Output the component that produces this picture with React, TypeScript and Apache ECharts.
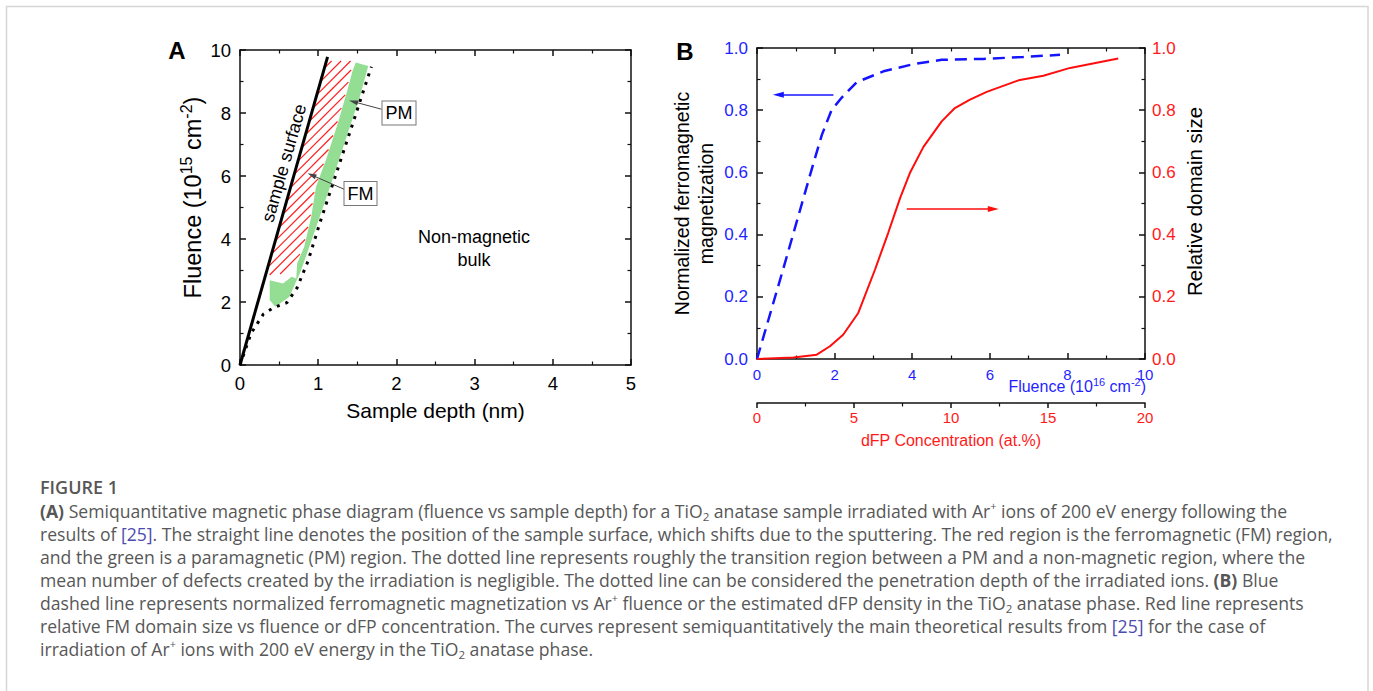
import React, { useEffect, useRef } from "react";
import * as echarts from "echarts";

const FONT = '"Liberation Sans", Arial, Helvetica, sans-serif';
const CAPTION_FONT = '"Open Sans", Lato, sans-serif';
const BLUE = "#1414ff";
const RED = "#ff0d0d";
const BLUE_TEXT = "#1f1fff";
const RED_TEXT = "#ff1a1a";
const GREEN_FILL = "#93de93";
const CAPTION_GRAY = "#575757";
const REF_COLOR = "#4b4bb0";

// ---------------- Panel A: magnetic phase diagram ----------------
const surfaceDepth = [0, 1.12];
const surfaceFluence = [0, 9.78];
const penetrationDepth = [0, 0.14, 0.3, 0.43, 0.6, 0.73, 0.87, 1.02, 1.22, 1.42, 1.68];
const penetrationFluence = [0, 1.0, 1.62, 1.82, 1.98, 2.45, 3.3, 4.5, 6.0, 7.5, 9.47];
const pmDepth = [1.48, 1.64, 1.53, 1.36, 1.15, 0.93, 0.78, 0.63, 0.45, 0.38, 0.38, 0.55, 0.66, 0.72, 0.73, 0.82, 0.91, 0.97, 1.11, 1.26, 1.37, 1.44];
const pmFluence = [9.6, 9.49, 8.49, 7.22, 5.64, 4.06, 3.0, 2.16, 1.85, 2.06, 2.69, 2.59, 2.8, 2.75, 3.22, 3.75, 4.69, 5.64, 6.59, 7.75, 8.7, 9.34];
const fmDepth = [0.34, 1.11, 1.43, 1.42, 1.36, 1.25, 1.1, 0.96, 0.9, 0.81, 0.71, 0.63, 0.5];
const fmFluence = [2.85, 9.65, 9.65, 9.34, 8.7, 7.75, 6.59, 5.64, 4.69, 3.75, 3.22, 2.98, 2.88];
const pmArrow = [[1.81, 8.12], [1.45, 8.36]];
const fmArrow = [[1.33, 5.58], [0.917, 6.03]];

// ---------------- Panel B: magnetization and domain size ----------------
const magFluence = [0, 0.7, 1.41, 1.67, 1.92, 2.18, 2.57, 3.26, 4.03, 4.76, 5.83, 6.86, 7.81];
const magValue = [0, 0.3, 0.61, 0.72, 0.8, 0.84, 0.89, 0.925, 0.948, 0.962, 0.965, 0.971, 0.978];
const domainFluence = [0, 0.94, 1.54, 1.88, 2.22, 2.61, 3.04, 3.38, 3.69, 3.94, 4.29, 4.76, 5.1, 5.49, 5.92, 6.74, 7.38, 8.07, 9.31];
const domainValue = [0, 0.005, 0.014, 0.041, 0.078, 0.148, 0.287, 0.405, 0.518, 0.598, 0.682, 0.764, 0.807, 0.834, 0.859, 0.896, 0.911, 0.936, 0.966];
const magArrow = [[1.97, 0.85], [0.55, 0.85]];
const domainArrow = [[3.86, 0.482], [6.09, 0.482]];

// ---------------- Caption ----------------
const captionTitle = "FIGURE 1";
const captionLines = [
  "{b|(A)} Semiquantitative magnetic phase diagram (fluence vs sample depth) for a TiO{sub|2} anatase sample irradiated with Ar{sup|+} ions of 200 eV energy following the",
  "results of {ref|[25]}. The straight line denotes the position of the sample surface, which shifts due to the sputtering. The red region is the ferromagnetic (FM) region,",
  "and the green is a paramagnetic (PM) region. The dotted line represents roughly the transition region between a PM and a non-magnetic region, where the",
  "mean number of defects created by the irradiation is negligible. The dotted line can be considered the penetration depth of the irradiated ions. {b|(B)} Blue",
  "dashed line represents normalized ferromagnetic magnetization vs Ar{sup|+} fluence or the estimated dFP density in the TiO{sub|2} anatase phase. Red line represents",
  "relative FM domain size vs fluence or dFP concentration. The curves represent semiquantitatively the main theoretical results from {ref|[25]} for the case of",
  "irradiation of Ar{sup|+} ions with 200 eV energy in the TiO{sub|2} anatase phase.",
];

const pairs = (xs: number[], ys: number[]) => xs.map((x, i) => [x, ys[i]]);

function polygonRenderer(xs: number[], ys: number[], fill: string) {
  return (_params: any, api: any) => {
    const pts = xs.map((x, i) => api.coord([x, ys[i]]));
    return { type: "polygon", shape: { points: pts }, style: { fill, stroke: "none" } };
  };
}

function hatchRenderer(xs: number[], ys: number[], color: string, spacing: number) {
  return (_params: any, api: any) => {
    const pts = xs.map((x, i) => api.coord([x, ys[i]]));
    const sums = pts.map((p: number[]) => p[0] + p[1]);
    const lo = Math.min(...sums);
    const hi = Math.max(...sums);
    const children: any[] = [];
    for (let c = lo + spacing / 2; c < hi; c += spacing) {
      const hits: number[][] = [];
      for (let i = 0; i < pts.length; i++) {
        const p = pts[i];
        const q = pts[(i + 1) % pts.length];
        const fp = p[0] + p[1] - c;
        const fq = q[0] + q[1] - c;
        if (fp < 0 !== fq < 0) {
          const t = fp / (fp - fq);
          hits.push([p[0] + t * (q[0] - p[0]), p[1] + t * (q[1] - p[1])]);
        }
      }
      hits.sort((a, b) => a[0] - b[0]);
      for (let k = 0; k + 1 < hits.length; k += 2) {
        children.push({
          type: "line",
          shape: { x1: hits[k][0], y1: hits[k][1], x2: hits[k + 1][0], y2: hits[k + 1][1] },
          style: { stroke: color, lineWidth: 1.2 },
        });
      }
    }
    return { type: "group", children };
  };
}

const axisLineStyle = { show: true, onZero: false, lineStyle: { color: "#111", width: 1.5 } };
const tickIn = { show: true, inside: true, length: 6, lineStyle: { color: "#111", width: 1.5 } };
const minorIn = { show: true, splitNumber: 2, length: 3.5, lineStyle: { color: "#111", width: 1.2 } };
const noSplit = { show: false };
const noLabel = { show: false };

function captionRich(size: number) {
  return {
    b: { fontFamily: CAPTION_FONT, fontSize: size, fontWeight: "bold", fill: CAPTION_GRAY, lineHeight: 23 },
    ref: { fontFamily: CAPTION_FONT, fontSize: size, fill: REF_COLOR, lineHeight: 23 },
    sub: { fontFamily: CAPTION_FONT, fontSize: size * 0.66, fill: CAPTION_GRAY, verticalAlign: "bottom", lineHeight: 14 },
    sup: { fontFamily: CAPTION_FONT, fontSize: size * 0.62, fill: CAPTION_GRAY, verticalAlign: "top", lineHeight: 12 },
  };
}

export default function App() {
  const ref = useRef<HTMLDivElement>(null);

  useEffect(() => {
    document.body.style.margin = "0";
    document.body.style.overflow = "hidden";
    const chart = echarts.init(ref.current!, null, { renderer: "svg" });
    const capSize = 17.6;

    const option: any = {
      animation: false,
      backgroundColor: "#ffffff",
      grid: [
        { left: 240, top: 50, width: 391, height: 315 },
        { left: 757, top: 48, width: 388, height: 311 },
      ],
      xAxis: [
        {
          gridIndex: 0, type: "value", min: 0, max: 5, interval: 1, position: "bottom",
          axisLine: axisLineStyle, axisTick: tickIn, minorTick: minorIn, splitLine: noSplit,
          axisLabel: { fontSize: 18.5, color: "#000", fontFamily: FONT, margin: 9 },
          name: "Sample depth (nm)", nameLocation: "middle", nameGap: 35,
          nameTextStyle: { fontSize: 21, color: "#000", fontFamily: FONT },
        },
        {
          gridIndex: 0, type: "value", min: 0, max: 5, interval: 1, position: "top",
          axisLine: axisLineStyle, axisTick: tickIn, minorTick: minorIn, splitLine: noSplit, axisLabel: noLabel,
        },
        {
          gridIndex: 1, type: "value", min: 0, max: 10, interval: 2, position: "bottom",
          axisLine: axisLineStyle, axisTick: tickIn, minorTick: minorIn, splitLine: noSplit,
          axisLabel: { fontSize: 15, color: BLUE_TEXT, fontFamily: FONT, margin: 8 },
        },
        {
          gridIndex: 1, type: "value", min: 0, max: 10, interval: 2, position: "top",
          axisLine: axisLineStyle, axisTick: tickIn, minorTick: minorIn, splitLine: noSplit, axisLabel: noLabel,
        },
        {
          gridIndex: 1, type: "value", min: 0, max: 20, interval: 5, position: "bottom", offset: 44,
          axisLine: axisLineStyle,
          axisTick: { show: true, inside: false, length: 5, lineStyle: { color: "#111", width: 1.5 } },
          minorTick: { show: true, splitNumber: 2, length: 3.5, lineStyle: { color: "#111", width: 1.2 } },
          splitLine: noSplit,
          axisLabel: { fontSize: 15, color: RED_TEXT, fontFamily: FONT, margin: 7 },
          name: "dFP Concentration (at.%)", nameLocation: "middle", nameGap: 29,
          nameTextStyle: { fontSize: 16, color: RED_TEXT, fontFamily: FONT },
        },
      ],
      yAxis: [
        {
          gridIndex: 0, type: "value", min: 0, max: 10, interval: 2, position: "left",
          axisLine: axisLineStyle, axisTick: tickIn, minorTick: minorIn, splitLine: noSplit,
          axisLabel: { fontSize: 18.5, color: "#000", fontFamily: FONT, margin: 9 },
          name: "Fluence (10{sup|15} cm{sup|-2})", nameLocation: "middle", nameGap: 31,
          nameTextStyle: {
            fontSize: 23.5, color: "#000", fontFamily: FONT, lineHeight: 28, padding: [0, 0, 0, 20],
            rich: { sup: { fontSize: 16, color: "#000", fontFamily: FONT, verticalAlign: "top", lineHeight: 17 } },
          },
        },
        {
          gridIndex: 0, type: "value", min: 0, max: 10, interval: 2, position: "right",
          axisLine: axisLineStyle, axisTick: tickIn, minorTick: minorIn, splitLine: noSplit, axisLabel: noLabel,
        },
        {
          gridIndex: 1, type: "value", min: 0, max: 1, interval: 0.2, position: "left",
          axisLine: axisLineStyle, axisTick: tickIn, minorTick: minorIn, splitLine: noSplit,
          axisLabel: { fontSize: 17, color: BLUE_TEXT, fontFamily: FONT, margin: 9, formatter: (v: number) => v.toFixed(1) },
          name: "Normalized ferromagnetic\nmagnetization", nameLocation: "middle", nameGap: 39, nameRotate: 90,
          nameTextStyle: { fontSize: 19.5, color: "#000", fontFamily: FONT, lineHeight: 24 },
        },
        {
          gridIndex: 1, type: "value", min: 0, max: 1, interval: 0.2, position: "right",
          axisLine: axisLineStyle, axisTick: tickIn, minorTick: minorIn, splitLine: noSplit,
          axisLabel: { fontSize: 17, color: RED_TEXT, fontFamily: FONT, margin: 7, formatter: (v: number) => v.toFixed(1) },
          name: "Relative domain size", nameLocation: "middle", nameGap: 39, nameRotate: 90,
          nameTextStyle: { fontSize: 20.5, color: "#000", fontFamily: FONT, padding: [0, 0, 0, 4] },
        },
      ],
      series: [
        {
          type: "custom", name: "PM region", xAxisIndex: 0, yAxisIndex: 0, z: 1, silent: true,
          data: [[0, 0]], renderItem: polygonRenderer(pmDepth, pmFluence, GREEN_FILL),
        },
        {
          type: "custom", name: "FM region", xAxisIndex: 0, yAxisIndex: 0, z: 2, silent: true,
          data: [[0, 0]], renderItem: hatchRenderer(fmDepth, fmFluence, "#ff2020", 9.5),
        },
        {
          type: "line", name: "sample surface", xAxisIndex: 0, yAxisIndex: 0, z: 4, silent: true,
          data: pairs(surfaceDepth, surfaceFluence), symbol: "none",
          lineStyle: { color: "#000", width: 3 },
          markLine: {
            silent: true, symbol: ["none", "triangle"], symbolSize: [5, 9],
            label: { show: false },
            lineStyle: { color: "#444", width: 1, type: "solid" },
            data: [
              [{ coord: pmArrow[0] }, { coord: pmArrow[1] }],
              [{ coord: fmArrow[0] }, { coord: fmArrow[1] }],
            ],
          },
        },
        {
          type: "line", name: "penetration depth", xAxisIndex: 0, yAxisIndex: 0, z: 4, silent: true,
          data: pairs(penetrationDepth, penetrationFluence), symbol: "none",
          lineStyle: { color: "#000", width: 3, type: [3, 6] },
        },
        {
          type: "line", name: "magnetization", xAxisIndex: 2, yAxisIndex: 2, z: 4, silent: true,
          data: pairs(magFluence, magValue), symbol: "none",
          lineStyle: { color: BLUE, width: 2.5, type: [12, 7] },
          markLine: {
            silent: true, symbol: ["none", "triangle"], symbolSize: [6, 11],
            label: { show: false },
            lineStyle: { color: BLUE, width: 1.5, type: "solid" },
            data: [[{ coord: magArrow[0] }, { coord: magArrow[1] }]],
          },
        },
        {
          type: "line", name: "domain size", xAxisIndex: 2, yAxisIndex: 3, z: 4, silent: true,
          data: pairs(domainFluence, domainValue), symbol: "none",
          lineStyle: { color: RED, width: 2 },
          markLine: {
            silent: true, symbol: ["none", "triangle"], symbolSize: [6, 11],
            label: { show: false },
            lineStyle: { color: RED, width: 1.5, type: "solid" },
            data: [[{ coord: domainArrow[0] }, { coord: domainArrow[1] }]],
          },
        },
      ],
      graphic: [
        {
          type: "rect", z: 0, silent: true,
          shape: { x: 6.5, y: 6.5, width: 1361.5, height: 720 },
          style: { fill: "none", stroke: "#d6d6d6", lineWidth: 1.5 },
        },
        {
          type: "text", x: 177, y: 50, z: 10,
          style: { text: "A", fontFamily: FONT, fontSize: 24, fontWeight: "bold", fill: "#000", align: "center", verticalAlign: "middle" },
        },
        {
          type: "text", x: 685, y: 51, z: 10,
          style: { text: "B", fontFamily: FONT, fontSize: 24, fontWeight: "bold", fill: "#000", align: "center", verticalAlign: "middle" },
        },
        {
          type: "text", x: 284, y: 163, z: 10, rotation: (74 * Math.PI) / 180,
          style: { text: "sample surface", fontFamily: FONT, fontSize: 18, fill: "#000", align: "center", verticalAlign: "middle" },
        },
        {
          type: "text", x: 474, y: 248, z: 10,
          style: { text: "Non-magnetic\nbulk", fontFamily: FONT, fontSize: 18, lineHeight: 23, fill: "#000", align: "center", verticalAlign: "middle" },
        },
        {
          type: "text", x: 399, y: 113, z: 10,
          style: {
            text: "PM", fontFamily: FONT, fontSize: 18, fill: "#000", align: "center", verticalAlign: "middle",
            backgroundColor: "#fff", borderColor: "#777", borderWidth: 1, padding: [3, 3, 2, 3],
          },
        },
        {
          type: "text", x: 360.5, y: 193.5, z: 10,
          style: {
            text: "FM", fontFamily: FONT, fontSize: 18, fill: "#000", align: "center", verticalAlign: "middle",
            backgroundColor: "#fff", borderColor: "#777", borderWidth: 1, padding: [3, 3, 2, 3],
          },
        },
        {
          type: "text", x: 1146, y: 386, z: 10,
          style: {
            text: "Fluence (10{sup|16} cm{sup|-2})", fontFamily: FONT, fontSize: 16, fill: BLUE_TEXT,
            align: "right", verticalAlign: "middle", lineHeight: 20,
            rich: { sup: { fontFamily: FONT, fontSize: 11, fill: BLUE_TEXT, verticalAlign: "top", lineHeight: 12 } },
          },
        },
        {
          type: "text", x: 40, y: 487, z: 10,
          style: { text: captionTitle, fontFamily: CAPTION_FONT, fontSize: 18, fontWeight: 600, fill: CAPTION_GRAY, align: "left", verticalAlign: "middle" },
        },
        ...captionLines.map((line, i) => ({
          type: "text", x: 40, y: 511 + i * 23, z: 10,
          style: {
            text: line, fontFamily: CAPTION_FONT, fontSize: capSize, fill: CAPTION_GRAY,
            align: "left", verticalAlign: "middle", lineHeight: 23, rich: captionRich(capSize),
          },
        })),
      ],
    };

    chart.setOption(option);
    return () => chart.dispose();
  }, []);

  return <div ref={ref} style={{ width: 1373, height: 691 }} />;
}
